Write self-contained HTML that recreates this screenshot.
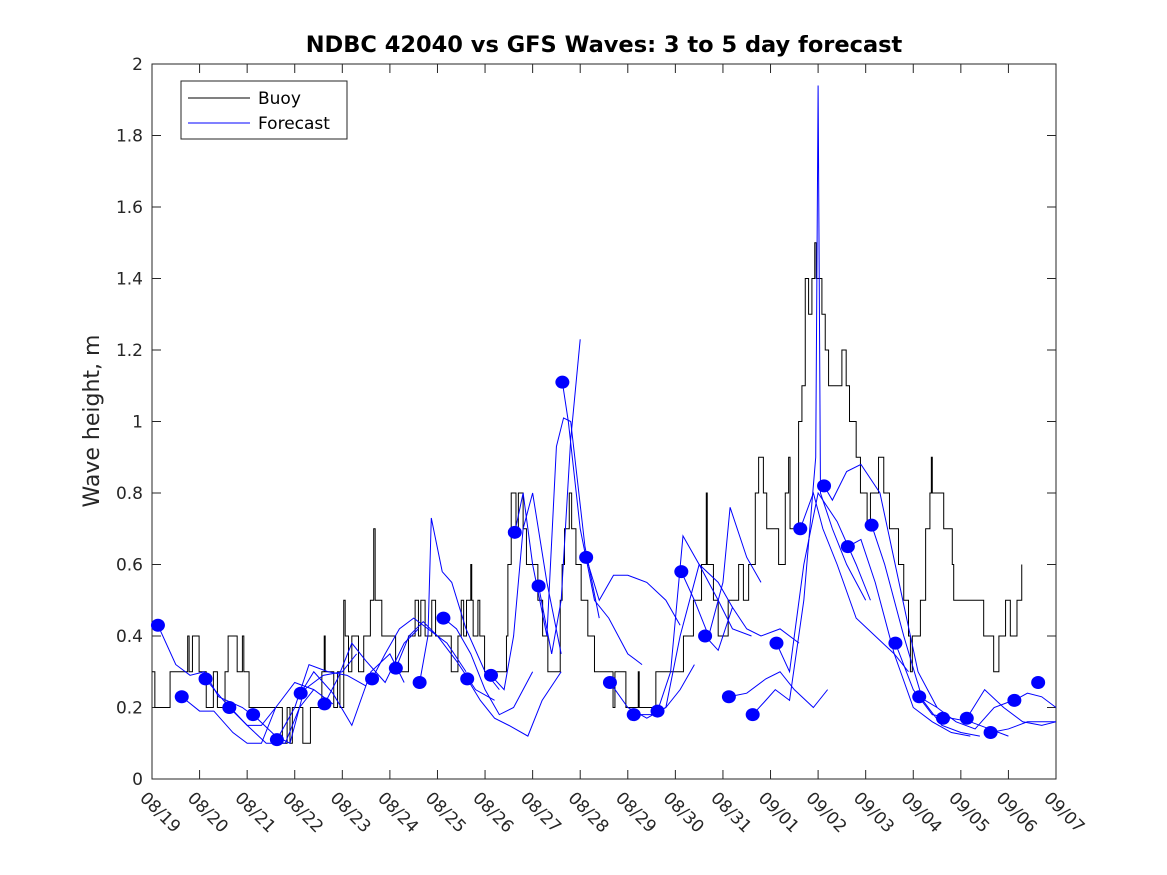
<!DOCTYPE html>
<html><head><meta charset="utf-8"><style>
body{margin:0;background:#fff;}
svg{display:block;font-family:"DejaVu Sans","Liberation Sans",sans-serif;}
</style></head><body>
<svg id="chart" width="1167" height="875" xmlns="http://www.w3.org/2000/svg">
<rect width="1167" height="875" fill="#fff"/>
<text x="604" y="52" text-anchor="middle" font-size="22.5" font-weight="bold" fill="#000">NDBC 42040 vs GFS Waves: 3 to 5 day forecast</text>
<text transform="translate(99,421) rotate(-90)" text-anchor="middle" font-size="22" fill="#262626">Wave height, m</text>
<g id="plot"></g>
<g>
<rect x="181" y="81" width="166" height="58" fill="#fff" stroke="#262626" stroke-width="1"/>
<line x1="188" y1="98" x2="250" y2="98" stroke="#000"/>
<text x="258" y="104" font-size="17" fill="#000">Buoy</text>
<line x1="188" y1="123" x2="250" y2="123" stroke="#00f"/>
<text x="258" y="129" font-size="17" fill="#000">Forecast</text>
</g>
</svg>
<script>
const xTickLabels=["08/19","08/20","08/21","08/22","08/23","08/24","08/25","08/26","08/27","08/28","08/29","08/30","08/31","09/01","09/02","09/03","09/04","09/05","09/06","09/07"];
const yTicks=[0,0.2,0.4,0.6,0.8,1,1.2,1.4,1.6,1.8,2];
const buoyDays=[0,0.06,0.38,0.75,0.78,0.85,0.99,1.14,1.29,1.375,1.535,1.6,1.79,1.9,1.93,2.04,2.74,2.84,2.9,2.95,3.05,3.17,3.33,3.57,3.62,3.64,3.82,3.9,3.95,4.03,4.06,4.13,4.2,4.34,4.45,4.59,4.66,4.69,4.83,5.12,5.39,5.53,5.6,5.65,5.74,5.88,5.96,6.29,6.43,6.5,6.55,6.61,6.7,6.72,6.75,6.85,6.89,6.99,7.45,7.48,7.55,7.65,7.7,7.8,7.87,8.11,8.21,8.32,8.58,8.62,8.67,8.77,8.82,8.91,9.02,9.16,9.3,9.69,9.73,9.96,10.22,10.24,10.59,11.17,11.38,11.55,11.65,11.67,11.8,11.9,12.11,12.33,12.43,12.54,12.68,12.75,12.85,12.92,13.17,13.31,13.38,13.41,13.59,13.66,13.73,13.8,13.87,13.93,13.96,14.08,14.15,14.22,14.29,14.5,14.59,14.66,14.8,14.89,15.03,15.1,15.27,15.38,15.5,15.69,15.8,15.9,15.94,15.98,16.15,16.26,16.35,16.38,16.4,16.57,16.64,16.82,16.85,17.48,17.54,17.69,17.8,17.94,18.04,18.18,18.28];
const buoyVals=[0.3,0.2,0.3,0.4,0.3,0.4,0.3,0.2,0.3,0.2,0.3,0.4,0.3,0.4,0.3,0.2,0.1,0.2,0.1,0.2,0.2,0.1,0.2,0.3,0.4,0.3,0.2,0.3,0.2,0.5,0.4,0.3,0.4,0.3,0.4,0.5,0.7,0.5,0.4,0.3,0.4,0.5,0.4,0.5,0.4,0.5,0.4,0.3,0.4,0.5,0.4,0.5,0.6,0.5,0.4,0.5,0.4,0.3,0.4,0.6,0.8,0.7,0.8,0.7,0.6,0.5,0.4,0.3,0.5,0.6,0.7,0.8,0.7,0.6,0.5,0.4,0.3,0.2,0.3,0.2,0.3,0.2,0.3,0.4,0.5,0.6,0.8,0.6,0.5,0.4,0.5,0.6,0.5,0.6,0.8,0.9,0.8,0.7,0.6,0.8,0.9,0.7,1.0,1.1,1.4,1.3,1.4,1.5,1.4,1.3,1.2,1.1,1.1,1.2,1.1,1.0,0.9,0.8,0.7,0.8,0.9,0.8,0.7,0.6,0.5,0.4,0.3,0.4,0.5,0.7,0.8,0.9,0.8,0.8,0.7,0.6,0.5,0.4,0.4,0.3,0.4,0.5,0.4,0.5,0.6,0.7,0.6];
const dotDays=[0.125,0.625,1.125,1.625,2.125,2.625,3.125,3.625,4.625,5.125,5.625,6.125,6.625,7.125,7.625,8.125,8.625,9.125,9.625,10.125,10.625,11.125,11.625,12.125,12.625,13.125,13.625,14.125,14.625,15.125,15.625,16.125,16.625,17.125,17.625,18.125,18.625];
const dotVals=[0.43,0.23,0.28,0.2,0.18,0.11,0.24,0.21,0.28,0.31,0.27,0.45,0.28,0.29,0.69,0.54,1.11,0.62,0.27,0.18,0.19,0.58,0.4,0.23,0.18,0.38,0.7,0.82,0.65,0.71,0.38,0.23,0.17,0.17,0.13,0.22,0.27];
const fcDays=[
[0.125,0.5,0.8,1.1,1.4,1.9,2.2],
[0.625,1.0,1.3,1.7,2.0,2.3,2.6],
[1.125,1.5,2.0,2.3,2.6,3.0,3.4],
[1.625,2.0,2.4,2.8,3.1,3.4,3.8],
[2.125,2.6,2.9,3.2,3.6,4.0,4.3],
[2.625,3.0,3.3,3.7,4.1,4.5],
[3.125,3.4,3.8,4.2,4.6,5.0,5.3],
[3.625,3.9,4.2,4.5,4.9,5.3,5.6],
[4.625,4.9,5.2,5.5,5.8,6.2,6.6],
[5.125,5.4,5.7,6.0,6.4,6.8,7.2],
[5.625,5.8,5.87,6.1,6.3,6.6,7.0,7.3],
[6.125,6.4,6.7,7.0,7.3,7.6,8.0],
[6.625,6.9,7.2,7.5,7.9,8.2,8.6],
[7.125,7.4,7.6,7.8,8.0,8.3,8.6],
[7.625,7.8,8.0,8.3,8.5,8.65,8.8,9.1,9.4],
[8.125,8.4,8.6,8.8,9.0],
[8.625,8.75,9.0,9.3,9.6,10.0,10.3],
[9.125,9.4,9.7,10.0,10.4,10.8,11.1],
[9.625,10.0,10.4,10.8,11.1,11.4],
[10.125,10.5,10.8,11.1,11.5,11.9,12.2],
[10.625,10.9,11.16,11.5,11.9,12.2,12.6],
[11.125,11.4,11.7,12.0,12.15,12.5,12.8],
[11.625,11.9,12.2,12.5,12.8,13.2,13.6],
[12.125,12.5,12.9,13.2,13.5,13.9,14.2],
[12.625,12.9,13.1,13.4,13.7,13.95,14.0,14.05,14.3,14.6,15.0],
[13.125,13.4,13.7,14.0,14.4,14.8,15.1],
[13.625,13.9,14.1,14.4,14.8,15.2,15.6,15.9],
[14.125,14.3,14.6,14.9,15.3,15.7,16.1,16.5],
[14.625,14.9,15.2,15.6,16.0,16.4,16.8,17.2],
[15.125,15.4,15.8,16.2,16.6,17.0,17.4],
[15.625,16.0,16.4,16.8,17.2,17.6,18.0],
[16.125,16.5,16.9,17.3,17.7,18.1],
[17.125,17.5,17.9,18.3,18.7,19.0],
[17.625,18.0,18.4,18.8,19.0],
[18.125,18.4,18.7,19.0]];
const fcVals=[
[0.43,0.32,0.29,0.30,0.23,0.20,0.17],
[0.23,0.19,0.19,0.13,0.10,0.10,0.20],
[0.28,0.22,0.15,0.15,0.20,0.27,0.25],
[0.20,0.15,0.10,0.10,0.20,0.25,0.21],
[0.18,0.12,0.10,0.25,0.29,0.30,0.35],
[0.11,0.20,0.32,0.30,0.29,0.26],
[0.24,0.30,0.24,0.15,0.30,0.35,0.27],
[0.21,0.28,0.38,0.33,0.27,0.38,0.42],
[0.28,0.35,0.42,0.45,0.42,0.38,0.30],
[0.31,0.40,0.44,0.40,0.33,0.25,0.22],
[0.27,0.40,0.73,0.58,0.55,0.42,0.30,0.25],
[0.45,0.42,0.35,0.25,0.18,0.20,0.30],
[0.28,0.22,0.17,0.15,0.12,0.22,0.30],
[0.29,0.25,0.40,0.70,0.80,0.55,0.35],
[0.69,0.80,0.60,0.40,0.93,1.01,1.00,0.65,0.45],
[0.54,0.35,0.50,0.95,1.23],
[1.11,1.00,0.70,0.50,0.45,0.35,0.32],
[0.62,0.50,0.57,0.57,0.55,0.50,0.43],
[0.27,0.20,0.17,0.20,0.25,0.32],
[0.18,0.18,0.20,0.40,0.60,0.55,0.48],
[0.19,0.30,0.68,0.60,0.50,0.42,0.40],
[0.58,0.50,0.40,0.55,0.76,0.62,0.55],
[0.40,0.36,0.48,0.42,0.40,0.42,0.38],
[0.23,0.24,0.28,0.30,0.25,0.20,0.25],
[0.18,0.22,0.25,0.22,0.50,0.90,1.94,0.80,0.70,0.60,0.50],
[0.38,0.30,0.60,0.80,0.72,0.60,0.50],
[0.70,0.80,0.70,0.60,0.45,0.40,0.35,0.30],
[0.82,0.78,0.86,0.88,0.80,0.55,0.30,0.20],
[0.65,0.67,0.55,0.35,0.20,0.16,0.13,0.12],
[0.71,0.60,0.40,0.22,0.15,0.13,0.12],
[0.38,0.25,0.18,0.17,0.16,0.14,0.12],
[0.23,0.20,0.16,0.14,0.20,0.22],
[0.17,0.25,0.20,0.16,0.15,0.16],
[0.13,0.14,0.16,0.16,0.16],
[0.22,0.24,0.23,0.20]];

const X0=152,X1=1056,Y0=779,Y1=64,DAYS=19,YMAX=2;
const xs=d=>X0+(X1-X0)*d/DAYS;
const ys=v=>Y0-(Y0-Y1)*v/YMAX;
const NS="http://www.w3.org/2000/svg";
const g=document.getElementById('plot');
function mk(t,a){const e=document.createElementNS(NS,t);for(const k in a)e.setAttribute(k,a[k]);g.appendChild(e);return e;}
const axbox=mk('rect',{x:X0,y:Y1,width:X1-X0,height:Y0-Y1,fill:'none',stroke:'#262626','stroke-width':1});


yTicks.forEach(v=>{
 const y=ys(v);
 const t1=mk('path',{d:`M${X0},${y}h9M${X1},${y}h-9`,stroke:'#262626'});
 
 
 const tl=mk('text',{x:X0-9,y:y+6,'text-anchor':'end','font-size':17,fill:'#262626'});
 tl.textContent=String(v);
 
 
});
xTickLabels.forEach((s,i)=>{
 const x=xs(i);
 const t1=mk('path',{d:`M${x},${Y0}v-9M${x},${Y1}v9`,stroke:'#262626'});
 
 
 const tl=mk('text',{transform:`translate(${x-13},${Y0+20}) rotate(45)`,'font-size':17,fill:'#262626'});
 tl.textContent=s;
 
 
});
let d='';
buoyDays.forEach((t,i)=>{
 const x=xs(t),y=ys(buoyVals[i]);
 if(i===0)d+=`M${x},${y}`;else d+=`H${x}V${y}`;
});
const bl=mk('path',{d:d,fill:'none',stroke:'#000','stroke-width':1});


fcDays.forEach((arr,j)=>{
 const pts=arr.map((t,i)=>xs(t)+','+ys(fcVals[j][i])).join(' ');
 const pl=mk('polyline',{points:pts,fill:'none',stroke:'#00f','stroke-width':1});
 
 
});
dotDays.forEach((t,i)=>{
 const c=mk('ellipse',{cx:xs(t),cy:ys(dotVals[i]),rx:7,ry:6.5,fill:'#00f'});
 
 
});
</script>
</body></html>
